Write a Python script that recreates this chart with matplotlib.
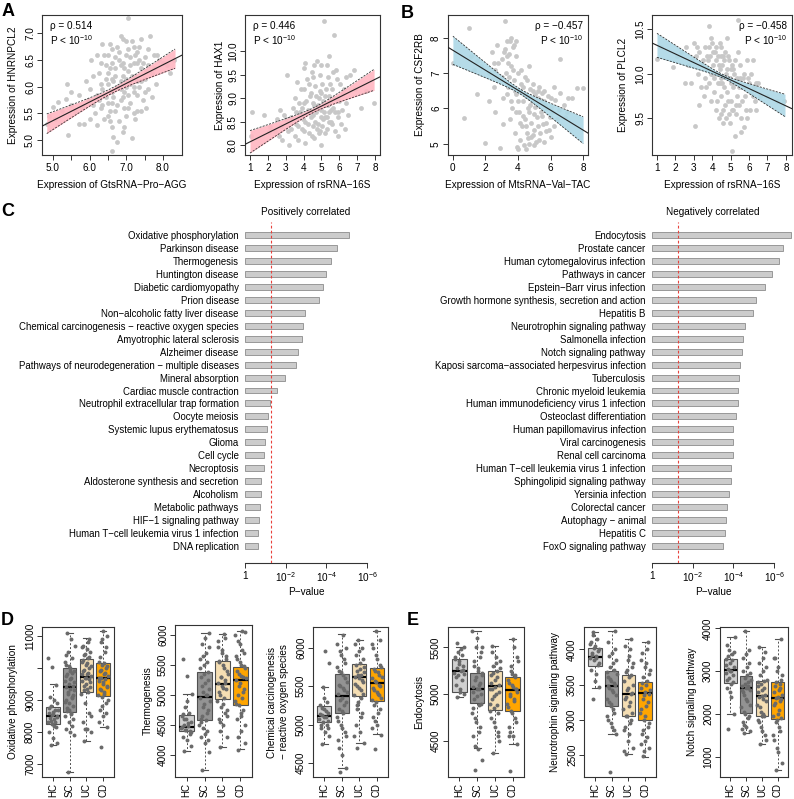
import numpy as np
import matplotlib
matplotlib.use('Agg')
import matplotlib.pyplot as plt

plt.rcParams['font.family'] = ['Liberation Sans', 'DejaVu Sans']
plt.rcParams['mathtext.fontset'] = 'custom'
plt.rcParams['mathtext.rm'] = 'Liberation Sans'
plt.rcParams['mathtext.it'] = 'Liberation Sans:italic'
plt.rcParams['mathtext.bf'] = 'Liberation Sans:bold'
plt.rcParams['axes.unicode_minus'] = True

M = '\u2212'

# ---------------- DATA ----------------
# Panel A / B scatter points (x, y)
A1_pts = [(4.85,5.30),(4.9,5.45),(5.0,5.62),(5.05,5.40),(5.15,5.72),(5.25,5.55),(5.35,5.77),(5.38,6.05),(5.42,5.10),
          (5.5,5.65),(5.6,5.55),(5.7,5.85),(5.8,5.62),(5.85,5.30),(5.95,5.75),(6.0,5.95),(6.05,6.5),(6.1,6.2),(6.15,5.5),
          (6.2,5.28),(6.2,5.85),(6.25,6.25),(6.3,5.6),(6.3,6.45),(6.35,5.95),(6.4,5.4),(6.4,6.6),(6.45,6.15),(6.5,5.7),
          (6.5,5.45),(6.55,6.35),(6.55,6.8),(6.6,5.9),(6.6,5.25),(6.62,4.8),(6.65,6.1),(6.7,6.55),(6.7,5.55),(6.75,6.75),
          (6.75,4.97),(6.8,6.0),(6.8,5.35),(6.85,6.4),(6.85,5.75),(6.9,6.9),(6.9,6.2),(6.95,5.6),(6.95,5.9),(7.0,6.6),
          (7.0,5.45),(7.05,7.28),(7.05,6.3),(7.1,6.05),(7.1,5.7),(7.15,6.85),(7.15,5.03),(7.2,6.45),(7.2,5.9),(7.25,6.2),
          (7.3,6.65),(7.3,5.55),(7.35,6.0),(7.4,6.9),(7.4,6.35),(7.45,5.75),(7.5,6.55),(7.5,6.15),(7.55,5.6),(7.6,6.4),
          (7.65,6.95),(7.7,6.25),(7.75,6.6),(7.8,6.05),(7.9,6.5),(8.0,6.45),(8.1,6.4),(8.3,6.5),(6.35,5.65),(6.9,5.15),
          (6.6,6.45),(6.7,6.2),(6.8,6.65),(6.9,6.45),(7.0,6.15),(7.1,6.55),(7.2,6.75),(7.3,6.1),(6.5,6.05),(6.45,5.8),
          (7.05,5.85),(6.85,5.95),(7.35,6.5),(6.25,5.75),(6.6,6.7),(7.25,5.4),
          (6.3,6.05),(6.4,5.85),(6.45,6.4),(6.5,6.25),(6.55,5.55),(6.6,6.15),(6.65,5.8),(6.7,6.35),(6.75,6.0),(6.75,5.65),
          (6.8,6.5),(6.85,6.1),(6.9,5.8),(6.95,6.35),(7.0,6.0),(7.0,6.85),(7.05,5.6),(7.1,6.4),(7.15,6.2),(7.2,6.0),
          (7.2,5.5),(7.25,6.6),(7.3,5.85),(7.35,6.75),(7.4,6.1),(7.45,6.45),(7.5,5.9),(7.55,6.3),(7.6,6.7),(7.7,5.8),
          (7.75,6.35),(7.85,6.6),(6.1,5.65),(6.0,5.4),(5.9,6.1),(5.7,5.3),(5.5,5.9),(6.2,6.6),(6.35,6.8),(6.55,5.35),
          (6.65,5.05),(6.95,5.25),(7.4,5.55),(7.6,5.95),(8.2,6.25),(6.85,6.95),(7.05,6.7),(6.5,6.6),(7.3,6.45),(6.6,5.7)]
A2_pts = [(1.05,8.2),(1.1,8.7),(1.8,8.65),(2.05,8.28),(2.1,8.38),(2.5,8.55),(2.6,8.2),(2.75,8.4),(2.8,8.1),(2.9,8.65),
          (3.05,9.5),(3.1,8.3),(3.2,8.0),(3.3,8.6),(3.4,8.8),(3.5,8.2),(3.5,9.0),(3.6,8.45),(3.65,9.35),(3.7,8.1),
          (3.8,8.7),(3.85,9.2),(3.9,8.35),(4.0,9.65),(4.0,8.9),(4.1,8.05),(4.1,8.5),(4.2,9.4),(4.25,8.75),(4.3,8.25),
          (4.35,9.05),(4.4,8.6),(4.45,9.55),(4.5,8.4),(4.55,8.9),(4.6,8.15),(4.65,9.25),(4.7,8.7),(4.75,9.8),(4.8,8.45),
          (4.85,9.0),(4.9,8.3),(4.95,9.7),(5.0,8.75),(5.0,8.0),(5.05,9.3),(5.1,8.55),(5.15,10.65),(5.2,9.05),(5.25,8.85),
          (5.3,8.35),(5.35,9.45),(5.4,8.7),(5.45,9.9),(5.5,8.95),(5.55,8.5),(5.6,9.2),(5.65,8.8),(5.7,10.35),(5.75,8.3),
          (5.8,9.6),(5.85,9.0),(5.95,8.7),(6.05,9.3),(6.1,8.45),(6.2,9.1),(6.3,8.35),(6.4,9.45),(6.5,8.65),(6.6,9.5),
          (7.5,9.15),(7.95,8.9),(6.8,9.6),(5.9,8.2),(4.6,8.85),(4.9,9.15),(5.2,8.6),(4.4,9.1),(3.95,8.55),(5.4,9.05),
          (3.6,8.7),(3.75,8.9),(3.9,8.8),(4.05,8.3),(4.15,8.95),(4.25,8.45),(4.35,8.7),(4.45,8.2),(4.55,8.65),(4.65,8.5),
          (4.7,9.05),(4.8,8.85),(4.85,8.25),(4.95,8.6),(5.0,9.1),(5.05,8.4),(5.1,8.95),(5.15,8.7),(5.25,9.2),(5.3,8.6),
          (5.35,8.85),(5.45,8.5),(5.5,9.3),(5.55,8.75),(5.6,8.45),(5.7,9.0),(5.75,8.7),(5.85,9.4),(5.9,8.6),(6.0,8.95),
          (6.15,8.75),(6.25,9.2),(4.3,9.3),(4.5,9.45),(4.0,9.2),(3.7,8.4),(3.3,8.35),(3.0,8.55),(2.7,8.75),(2.4,8.3),
          (4.75,8.35),(5.2,8.25),(5.65,9.55),(6.35,8.9),(6.9,9.2),(7.2,8.8),(4.9,9.5),(5.3,9.7),(4.6,9.7),(4.1,9.75)]
B1_pts = [(0.0,7.3),(1.0,8.27),(0.7,5.72),(1.1,7.5),(1.3,7.1),(1.5,7.35),(1.7,7.2),(2.0,5.03),(2.2,7.0),(2.4,7.6),
          (2.5,6.6),(2.6,7.1),(2.7,7.8),(2.8,6.8),(2.9,4.88),(3.0,7.4),(3.1,6.3),(3.2,8.48),(3.25,7.0),(3.3,7.9),
          (3.4,6.6),(3.45,7.55),(3.5,5.7),(3.55,7.2),(3.6,8.0),(3.65,6.0),(3.7,7.75),(3.75,6.8),(3.8,5.3),(3.85,7.5),
          (3.9,6.4),(3.95,4.9),(4.0,7.0),(4.05,5.9),(4.1,6.5),(4.15,5.1),(4.2,6.7),(4.25,5.5),(4.3,6.2),(4.35,4.95),
          (4.4,6.9),(4.45,5.7),(4.5,6.35),(4.55,5.3),(4.6,6.0),(4.65,7.2),(4.7,5.0),(4.75,6.55),(4.8,5.6),(4.85,6.2),
          (4.9,5.25),(4.95,6.7),(5.0,5.85),(5.05,6.4),(5.1,5.05),(5.15,6.1),(5.2,5.5),(5.3,6.6),(5.35,5.3),(5.4,6.25),
          (5.5,5.8),(5.6,6.5),(5.7,5.6),(5.8,6.0),(5.9,5.4),(6.0,6.3),(6.1,5.9),(6.2,6.6),(6.4,5.7),(6.56,7.39),
          (6.8,6.1),(7.0,5.9),(7.3,6.3),(7.65,6.57),(8.0,6.57),(5.0,4.95),(4.5,4.85),(2.2,6.2),(1.5,6.4),(3.4,7.3),
          (3.9,7.9),(4.3,6.6),(4.7,6.3),(5.2,6.5),(5.6,6.2),(3.6,6.6),
          (3.0,6.9),(3.15,7.6),(3.3,6.4),(3.45,6.9),(3.55,6.2),(3.7,7.1),(3.8,6.5),(3.9,5.9),(4.0,6.2),(4.1,5.6),
          (4.2,7.1),(4.3,5.8),(4.4,6.4),(4.5,5.5),(4.55,6.8),(4.65,5.9),(4.75,6.1),(4.8,5.2),(4.9,6.5),(5.0,5.4),
          (5.05,6.05),(5.15,5.75),(5.25,6.3),(5.3,5.1),(5.4,5.9),(5.45,6.45),(5.55,5.55),(5.65,6.1),(5.75,5.35),(5.85,6.35),
          (5.95,5.75),(6.05,6.05),(6.2,5.5),(6.3,6.25),(6.5,5.95),(6.6,6.45),(6.9,5.75),(7.1,6.3),(2.8,7.3),(2.5,7.3),
          (3.2,7.7),(3.5,7.9),(3.75,7.8),(3.1,5.55),(2.6,5.9),(4.0,4.85),(4.6,5.15),(5.6,5.05),(6.0,5.2),(3.35,7.5)]
B2_pts = [(1.0,10.17),(1.2,10.3),(1.85,10.08),(2.1,10.2),(2.3,10.25),(2.6,10.3),(2.7,10.1),(2.85,9.9),(3.0,10.35),
          (3.08,9.41),(3.1,10.2),(3.2,10.0),(3.3,10.25),(3.4,9.85),(3.5,10.15),(3.55,9.75),(3.6,10.3),(3.7,10.05),
          (3.8,10.54),(3.85,9.9),(3.9,10.2),(3.95,9.7),(4.0,10.35),(4.05,10.1),(4.1,9.8),(4.15,10.25),(4.2,9.6),
          (4.25,10.0),(4.3,10.2),(4.35,9.5),(4.4,10.05),(4.45,9.75),(4.5,10.3),(4.55,9.9),(4.6,9.45),(4.65,10.15),
          (4.7,9.65),(4.75,10.0),(4.8,9.8),(4.85,10.2),(4.9,9.55),(4.95,9.95),(5.0,9.7),(5.05,10.1),(5.07,9.14),
          (5.1,9.85),(5.15,9.6),(5.2,10.0),(5.25,9.3),(5.3,9.9),(5.35,9.75),(5.39,10.6),(5.4,10.25),(5.45,9.65),
          (5.5,9.95),(5.55,9.5),(5.6,9.85),(5.7,10.0),(5.75,9.4),(5.8,9.75),(5.9,10.15),(6.0,9.9),(6.05,9.6),
          (6.1,9.8),(6.2,10.15),(6.3,9.7),(6.4,9.9),(6.6,9.75),(7.0,9.75),(7.5,9.7),(7.9,9.7),(4.5,9.55),(3.3,9.65),
          (2.5,9.9),(4.2,10.15),(4.6,10.2),(4.0,10.0),(5.0,10.05),(4.4,9.9),(3.7,10.2),
          (3.45,10.1),(3.6,9.95),(3.75,10.15),(3.85,10.3),(3.95,10.0),(4.05,10.25),(4.1,9.95),(4.2,10.3),(4.3,9.9),
          (4.35,10.1),(4.45,10.2),(4.5,9.95),(4.55,10.1),(4.65,9.85),(4.7,10.25),(4.8,10.05),(4.85,9.7),(4.9,10.15),
          (5.0,9.9),(5.05,9.6),(5.1,10.05),(5.15,9.9),(5.25,10.15),(5.3,9.65),(5.35,9.95),(5.45,9.85),(5.5,10.1),
          (5.6,9.7),(5.65,9.95),(5.75,9.85),(5.85,9.6),(5.95,9.95),(6.1,10.0),(6.25,9.85),(6.35,9.6),(6.5,9.9),
          (4.75,9.5),(4.95,9.45),(5.3,9.55),(4.25,9.7),(3.65,9.85),(3.15,10.3),(2.9,10.15),(4.4,10.35),(4.8,10.4),
          (3.95,10.4),(5.9,9.5),(6.2,9.75),(4.6,9.6),(5.55,9.35)]

# regression line (intercept, slope) and CI half-width model (centre, min half-width, growth)
A1_fit = (3.624, 0.348, 6.6, 0.05, 0.10)
A2_fit = (7.88, 0.19, 4.6, 0.05, 0.065)
B1_fit = (7.65, -0.283, 4.1, 0.07, 0.096)
B2_fit = (10.417, -0.097, 4.6, 0.02, 0.037)
A1_band = (4.83, 8.33)
A2_band = (1.0, 7.95)
B1_band = (0.0, 8.0)
B2_band = (1.0, 7.95)
rho_vals = [0.514, 0.446, -0.457, -0.458]

# Panel C
pos_terms = ["Oxidative phosphorylation", "Parkinson disease", "Thermogenesis", "Huntington disease",
             "Diabetic cardiomyopathy", "Prion disease", f"Non{M}alcoholic fatty liver disease",
             f"Chemical carcinogenesis {M} reactive oxygen species", "Amyotrophic lateral sclerosis",
             "Alzheimer disease", f"Pathways of neurodegeneration {M} multiple diseases", "Mineral absorption",
             "Cardiac muscle contraction", "Neutrophil extracellular trap formation", "Oocyte meiosis",
             "Systemic lupus erythematosus", "Glioma", "Cell cycle", "Necroptosis",
             "Aldosterone synthesis and secretion", "Alcoholism", "Metabolic pathways",
             f"HIF{M}1 signaling pathway", f"Human T{M}cell leukemia virus 1 infection", "DNA replication"]
pos_logp = [5.11, 4.52, 4.21, 4.00, 3.82, 3.65, 2.93, 2.83, 2.78, 2.62, 2.50, 1.97, 1.56, 1.23, 1.11,
            1.07, 0.97, 0.93, 0.93, 0.77, 0.77, 0.72, 0.70, 0.62, 0.62]
neg_terms = ["Endocytosis", "Prostate cancer", "Human cytomegalovirus infection", "Pathways in cancer",
             f"Epstein{M}Barr virus infection", "Growth hormone synthesis, secretion and action", "Hepatitis B",
             "Neurotrophin signaling pathway", "Salmonella infection", "Notch signaling pathway",
             f"Kaposi sarcoma{M}associated herpesvirus infection", "Tuberculosis", "Chronic myeloid leukemia",
             "Human immunodeficiency virus 1 infection", "Osteoclast differentiation",
             "Human papillomavirus infection", "Viral carcinogenesis", "Renal cell carcinoma",
             f"Human T{M}cell leukemia virus 1 infection", "Sphingolipid signaling pathway", "Yersinia infection",
             "Colorectal cancer", f"Autophagy {M} animal", "Hepatitis C", "FoxO signaling pathway"]
neg_logp = [6.85, 6.45, 6.25, 5.90, 5.57, 5.12, 4.98, 4.55, 4.47, 4.44, 4.30, 4.28, 4.23, 4.21, 4.14,
            3.98, 3.98, 3.96, 3.90, 3.87, 3.79, 3.69, 3.64, 3.59, 3.48]
p_cutoff_log = 1.3
p_ticks = [0, 2, 4, 6]
p_ticklabels = ['1', r'10$^{\mathregular{-2}}$', r'10$^{\mathregular{-4}}$', r'10$^{\mathregular{-6}}$']

# Panels D / E
groups = ["HC", "SC", "UC", "CD"]
group_colors = ["#D0D0D0", "#939393", "#F5DEB3", "#FFA500"]

D1_q1 = [8250, 8615, 9260, 9125]; D1_med = [8510, 9396, 9729, 9698]; D1_q3 = [8771, 9990, 10270, 10146]
D1_lo = [7594, 6760, 7719, 8167]; D1_hi = [9490, 11083, 10927, 11156]
D1_pts = [[7600,7650,7800,8000,8150,8250,8300,8400,8450,8500,8550,8600,8700,8800,8900,9000,9100,9480,10040,10320,
           8200,8350,8480,8620,8750,8300,8520,8680],
          [6760,7900,8000,8100,8200,8300,8500,8600,8650,8800,8900,9000,9100,9200,9300,9350,9400,9450,9500,9600,9700,
           9800,9900,10000,10100,10300,10500,10700,10900,11080,8400,8700,8950,9050,9250,9550,9650,9750,9850,10050,
           10200,8550,8750,9150,9900,10400],
          [7720,8000,8100,8300,8600,8900,9200,9250,9300,9400,9500,9600,9650,9700,9750,9800,9900,10000,10100,10200,
           10300,10400,10500,10600,10700,10900,8100,8500,9350,9450,9550,9680,9800,9850,9950,10050,10150,10250,10350,
           10450,10650,10800],
          [7540,8170,8500,8700,8900,9100,9150,9200,9300,9400,9500,9600,9650,9700,9750,9800,9900,10000,10100,10200,
           10500,10800,11000,11150,8300,8600,8800,9000,9250,9350,9450,9550,9680,9850,9950,10050,10150,10350,10650,
           10900]]
D2_q1 = [4398, 4580, 4934, 4829]; D2_med = [4470, 4972, 5188, 5254]; D2_q3 = [4674, 5376, 5569, 5464]
D2_lo = [4066, 3746, 4138, 4094]; D2_hi = [5017, 6039, 6017, 6072]
D2_pts = [[4070,4150,4250,4300,4400,4420,4450,4480,4500,4550,4600,4650,4700,4800,5020,5320,5600,
           4350,4420,4470,4530,4600,4380,4900,4680],
          [3750,4050,4200,4300,4400,4450,4500,4580,4650,4750,4850,4950,5000,5050,5100,5200,5300,5380,5500,5600,5700,
           5850,6040,4350,4550,4700,4800,4900,5000,5150,5250,5350,5450,5550,5650,5800,5950,4600,4250],
          [4140,4300,4500,4600,4700,4800,4900,4950,5000,5100,5150,5200,5250,5300,5400,5500,5560,5650,5750,5900,6020,
           4400,4650,4850,5050,5200,5300,5350,5450,5550,5600,5700,5800,5950,4550,4750,5120],
          [4090,4200,4400,4600,4750,4830,4900,4950,5000,5100,5200,5250,5300,5350,5450,5500,5600,5700,5850,6000,6070,
           4300,4500,4700,4850,5050,5150,5280,5320,5400,5480,5550,5650,5750,5900,6050,4650]]
D3_q1 = [5030, 5147, 5377, 5312]; D3_med = [5117, 5372, 5615, 5537]; D3_q3 = [5247, 5654, 5784, 5740]
D3_lo = [4749, 4442, 4758, 4874]; D3_hi = [5494, 6173, 6100, 6216]
D3_pts = [[4750,4850,4900,4950,5000,5030,5070,5100,5120,5150,5200,5250,5300,5490,5800,5950,
           5000,5050,5100,5140,5180,5220,4950,5350],
          [4390,4440,4600,4800,4900,5000,5100,5150,5200,5300,5350,5400,5450,5500,5550,5650,5700,5800,5900,6050,6170,
           4700,4850,4950,5050,5250,5320,5420,5480,5520,5600,5680,5750,5850,5950,6000,5180],
          [4700,4760,4900,5000,5150,5300,5380,5450,5500,5550,5600,5620,5650,5700,5750,5800,5900,6000,6100,
           4850,5100,5250,5400,5480,5530,5580,5640,5680,5720,5780,5850,5950,6050,5350,5200],
          [4680,4870,5000,5100,5200,5300,5320,5400,5450,5500,5550,5600,5650,5700,5750,5850,6000,6100,6220,
           4950,5150,5250,5350,5420,5480,5520,5570,5620,5680,5720,5780,5900,6050,5380,5050]]
E1_q1 = [5027, 4902, 4831, 4824]; E1_med = [5247, 5055, 5091, 5044]; E1_q3 = [5372, 5230, 5251, 5180]
E1_lo = [4973, 4422, 4375, 4468]; E1_hi = [5500, 5674, 5514, 5589]
E1_pts = [[4970,5000,5020,5100,5150,5200,5230,5250,5280,5300,5350,5380,5420,5450,5500,
           5050,5180,5260,5320,5400,5480,5550,5220],
          [4190,4300,4420,4550,4650,4700,4800,4880,4950,5000,5050,5080,5100,5150,5200,5250,5300,5400,5500,5670,
           4600,4750,4900,4980,5020,5120,5180,5230,5280,5350,5450,5600,4850,5060,4450,5500],
          [4370,4500,4650,4750,4800,4850,4900,5000,5050,5100,5150,5200,5250,5300,5350,5400,5510,
           4550,4700,4820,4880,4950,5020,5080,5120,5180,5230,5280,5330,5450,4600,4980,5060],
          [4180,4470,4550,4650,4750,4820,4900,4950,5000,5050,5100,5150,5200,5300,5400,5590,
           4550,4700,4800,4860,4930,4980,5020,5080,5120,5180,5250,5350,5500,4600,5060,5220]]
E2_q1 = [3768, 3200, 3058, 2997]; E2_med = [3896, 3480, 3366, 3375]; E2_q3 = [4014, 3697, 3636, 3541]
E2_lo = [3456, 2793, 2509, 2476]; E2_hi = [4241, 4265, 4147, 4109]
E2_pts = [[3290,3460,3550,3700,3780,3850,3880,3900,3950,4000,4050,4100,4150,4240,
           3800,3870,3920,3980,4020,4080,3650,4200],
          [2260,2800,2900,3000,3100,3200,3300,3400,3450,3500,3550,3600,3700,3750,3850,3950,4100,4260,
           2950,3050,3150,3250,3350,3420,3480,3520,3580,3650,3800,3900,4000,3220,3680,2850],
          [2510,2600,2800,2900,3000,3060,3150,3250,3330,3380,3450,3550,3640,3700,3800,3900,4050,4150,
           2700,2850,2950,3050,3100,3200,3300,3360,3420,3500,3600,3680,3750,3850,2550,4000],
          [2480,2600,2700,2800,2900,3000,3100,3200,3300,3370,3400,3450,3550,3600,3700,3800,3950,4110,
           2550,2650,2750,2850,2950,3050,3150,3250,3350,3420,3500,3520,3650,3750,3850,4000]]
E3_q1 = [2730, 2012, 1950, 1872]; E3_med = [3026, 2597, 2426, 2363]; E3_q3 = [3283, 2885, 2776, 2753]
E3_lo = [2000, 1545, 1295, 687]; E3_hi = [3805, 3938, 3571, 3750]
E3_pts = [[1650,2000,2400,2600,2750,2850,2950,3000,3050,3100,3200,3280,3400,3500,3800,
           2700,2800,2900,3000,3150,3250,3350,3450,2500,3600],
          [1550,1600,1700,1800,1950,2000,2150,2300,2450,2550,2600,2650,2750,2850,2950,3100,3300,3500,3940,
           1650,1900,2050,2200,2350,2500,2600,2700,2800,2900,3000,3200,3400,2550,2650,1750],
          [1300,1400,1600,1800,1950,2050,2200,2350,2400,2450,2550,2650,2780,2900,3100,3300,3570,
           1500,1700,1850,2000,2150,2300,2420,2500,2600,2700,2800,3000,3200,3450,1950,2750],
          [690,850,1100,1400,1600,1850,1950,2100,2250,2350,2400,2500,2600,2750,2900,3100,3300,3750,
           1200,1500,1700,1800,1900,2000,2200,2300,2380,2450,2550,2650,2800,3000,3300,2700]]

# ---------------- FIGURE ----------------
W, H = 794, 799
fig = plt.figure(figsize=(W / 100, H / 100), dpi=100)
FS = 7.2
FRAME = '#333333'


def add_ax(x0, y0, x1, y1):
    return fig.add_axes([x0 / W, 1 - y1 / H, (x1 - x0) / W, (y1 - y0) / H])


def ftext(x, y, s, **kw):
    kw.setdefault('fontsize', FS)
    fig.text(x / W, 1 - y / H, s, **kw)


def style_frame(ax):
    for sp in ax.spines.values():
        sp.set_color(FRAME)
        sp.set_linewidth(0.8)
    ax.tick_params(length=3.5, width=0.7, color=FRAME, labelsize=FS, pad=2)
    ax.tick_params(axis='y', pad=1.5)


def rot_y_labels(ax):
    for lab in ax.get_yticklabels():
        lab.set_rotation(90)
        lab.set_va('center')


def scatter_panel(box, pts, fit, band, color, xlim, ylim, xticks, xlabels, yticks, ylabels,
                  xlabel, ylabel, ylab_x, rho, right):
    ax = add_ax(*box)
    xs = [p[0] for p in pts]
    ys = [p[1] for p in pts]
    ax.scatter(xs, ys, s=12, c='#C8C8C8', linewidths=0, zorder=1)
    a, b, xc, h0, hs = fit
    xx = np.linspace(band[0], band[1], 100)
    yy = a + b * xx
    hw = np.sqrt(h0 ** 2 + (hs * (xx - xc)) ** 2)
    ax.fill_between(xx, yy - hw, yy + hw, color=color, lw=0, alpha=0.9, zorder=2)
    ax.plot(xx, yy - hw, color='#333333', lw=0.6, ls=(0, (2.5, 1.5)), zorder=3)
    ax.plot(xx, yy + hw, color='#333333', lw=0.6, ls=(0, (2.5, 1.5)), zorder=3)
    xl = np.array(xlim)
    ax.plot(xl, a + b * xl, color='#222222', lw=0.8, zorder=4)
    ax.set_xlim(xlim)
    ax.set_ylim(ylim)
    ax.set_xticks(xticks)
    ax.set_xticklabels(xlabels)
    ax.set_yticks(yticks)
    ax.set_yticklabels(ylabels)
    style_frame(ax)
    rot_y_labels(ax)
    x0, y0, x1, y1 = box
    ftext((x0 + x1) / 2, 185, xlabel, ha='center', va='center')
    ftext(ylab_x, (y0 + y1) / 2, ylabel, ha='center', va='center', rotation=90)
    rtxt = f"\u03c1 = {rho:.3f}".replace('-', M)
    ptxt = r"P < 10$^{\mathregular{-10}}$"
    if right:
        ftext(x1 - 5, 26, rtxt, ha='right', va='center')
        ftext(x1 - 5, 40, ptxt, ha='right', va='center')
    else:
        ftext(x0 + 8, 26, rtxt, ha='left', va='center')
        ftext(x0 + 8, 40, ptxt, ha='left', va='center')
    return ax


def fmt1(v):
    return f"{v:.1f}"


# A1
a1_xt = [5.0, 5.5, 6.0, 6.5, 7.0, 7.5, 8.0]
scatter_panel((42, 15, 182, 155), A1_pts, A1_fit, A1_band, '#FFB6C1', (4.7, 8.52), (4.72, 7.34),
              a1_xt, [fmt1(v) if v == int(v) else '' for v in a1_xt],
              [5.0, 5.5, 6.0, 6.5, 7.0], [fmt1(v) for v in [5.0, 5.5, 6.0, 6.5, 7.0]],
              f"Expression of GtsRNA{M}Pro{M}AGG", "Expression of HNRNPCL2", 13, rho_vals[0], False)
# A2
scatter_panel((245, 15, 380, 155), A2_pts, A2_fit, A2_band, '#FFB6C1', (0.72, 8.28), (7.79, 10.77),
              list(range(1, 9)), [str(v) for v in range(1, 9)],
              [8.0, 8.5, 9.0, 9.5, 10.0], [fmt1(v) for v in [8.0, 8.5, 9.0, 9.5, 10.0]],
              f"Expression of rsRNA{M}16S", "Expression of HAX1", 220, rho_vals[1], False)
# B1
scatter_panel((448, 15, 588, 155), B1_pts, B1_fit, B1_band, '#ADD8E6', (-0.3, 8.3), (4.68, 8.65),
              [0, 2, 4, 6, 8], ['0', '2', '4', '6', '8'],
              [5, 6, 7, 8], ['5', '6', '7', '8'],
              f"Expression of MtsRNA{M}Val{M}TAC", "Expression of CSF2RB", 420, rho_vals[2], True)
# B2
scatter_panel((652, 15, 792, 155), B2_pts, B2_fit, B2_band, '#ADD8E6', (0.73, 8.33), (9.09, 10.66),
              list(range(1, 9)), [str(v) for v in range(1, 9)],
              [9.5, 10.0, 10.5], ['9.5', '10.0', '10.5'],
              f"Expression of rsRNA{M}16S", "Expression of PLCL2", 623, rho_vals[3], True)

# ---------------- Panel C ----------------
PX_PER_DEC = 20.35


def bar_panel(xstart, terms, vals, title):
    n = len(terms)
    top_px, bot_px = 222, 563
    spacing = (546 - 235) / (n - 1)
    y_top = 1 - (235 - top_px) / spacing
    y_bot = n + (bot_px - 546) / spacing
    ax = add_ax(xstart, top_px, xstart + 7 * PX_PER_DEC, bot_px)
    ypos = np.arange(1, n + 1)
    ax.barh(ypos, vals, height=0.46, color='#CCCCCC', edgecolor='#8C8C8C', linewidth=0.6, zorder=2)
    ax.axvline(p_cutoff_log, color='#E8413C', lw=0.8, ls=(0, (2.5, 2)), zorder=3)
    ax.set_xlim(0, 7)
    ax.set_ylim(y_bot, y_top)
    ax.set_yticks(ypos)
    ax.set_yticklabels(terms, fontsize=6.9)
    ax.tick_params(axis='y', length=0, pad=4.5)
    for s in ['left', 'top', 'right']:
        ax.spines[s].set_visible(False)
    ax.spines['bottom'].set_bounds(0, 6)
    ax.spines['bottom'].set_color(FRAME)
    ax.spines['bottom'].set_linewidth(0.8)
    ax.set_xticks(p_ticks)
    ax.set_xticklabels(p_ticklabels)
    ax.tick_params(axis='x', length=3.5, width=0.7, color=FRAME, labelsize=FS, pad=2)
    ax.patch.set_visible(False)
    cx = xstart + 3 * PX_PER_DEC
    ftext(cx, 212, title, ha='center', va='center')
    ftext(cx, 592, f"P{M}value", ha='center', va='center')


bar_panel(245, pos_terms, pos_logp, "Positively correlated")
bar_panel(652, neg_terms, neg_logp, "Negatively correlated")

# ---------------- Panels D / E ----------------


def box_panel(box, q1, med, q3, lo, hi, pts, ylim, yticks, ylabels, ylabel, ylab_x):
    ax = add_ax(*box)
    stats = [dict(med=med[i], q1=q1[i], q3=q3[i], whislo=lo[i], whishi=hi[i], fliers=[]) for i in range(4)]
    bp = ax.bxp(stats, positions=[1, 2, 3, 4], widths=0.8, patch_artist=True, showfliers=False,
                boxprops=dict(edgecolor='#505050', linewidth=0.8),
                medianprops=dict(color='black', linewidth=1.6),
                whiskerprops=dict(color='#505050', linewidth=0.7, linestyle=(0, (2, 2))),
                capprops=dict(color='#505050', linewidth=0.8), capwidths=0.4)
    for patch, c in zip(bp['boxes'], group_colors):
        patch.set_facecolor(c)
    for i, vals in enumerate(pts):
        n = len(vals)
        off = ((np.arange(n) * 0.618034 + 0.3) % 1 - 0.5) * 0.6
        ax.scatter(i + 1 + off, vals, s=8, c='#6A6A6A', linewidths=0, zorder=5)
    ax.set_xlim(0.35, 4.65)
    ax.set_ylim(ylim)
    ax.set_xticks([1, 2, 3, 4])
    ax.set_xticklabels(groups, rotation=90)
    ax.set_yticks(yticks)
    ax.set_yticklabels(ylabels)
    style_frame(ax)
    ax.tick_params(axis='x', labelsize=7.0, length=3, pad=1.5)
    rot_y_labels(ax)
    x0, y0, x1, y1 = box
    ftext(ylab_x, (y0 + y1) / 2, ylabel, ha='center', va='center', rotation=90, multialignment='center')
    return ax


box_panel((42, 627, 114, 777), D1_q1, D1_med, D1_q3, D1_lo, D1_hi, D1_pts, (6594, 11281),
          [7000, 8000, 9000, 10000, 11000], ['7000', '8000', '9000', '', '11000'],
          "Oxidative phosphorylation", 13)
box_panel((175, 625, 252, 777), D2_q1, D2_med, D2_q3, D2_lo, D2_hi, D2_pts, (3635, 6166),
          [4000, 4500, 5000, 5500, 6000], ['4000', '4500', '5000', '5500', '6000'],
          "Thermogenesis", 148)
box_panel((313, 627, 388, 777), D3_q1, D3_med, D3_q3, D3_lo, D3_hi, D3_pts, (4320, 6268),
          [4500, 5000, 5500, 6000], ['4500', '5000', '5500', '6000'],
          f"Chemical carcinogenesis\n{M} reactive oxygen species", 278)
box_panel((448, 627, 524, 777), E1_q1, E1_med, E1_q3, E1_lo, E1_hi, E1_pts, (4116, 5717),
          [4500, 5000, 5500], ['4500', '5000', '5500'],
          "Endocytosis", 419)
box_panel((584, 627, 656, 777), E2_q1, E2_med, E2_q3, E2_lo, E2_hi, E2_pts, (2187, 4317),
          [2500, 3000, 3500, 4000], ['2500', '3000', '3500', '4000'],
          "Neurotrophin signaling pathway", 555)
box_panel((720, 627, 788, 777), E3_q1, E3_med, E3_q3, E3_lo, E3_hi, E3_pts, (524, 4031),
          [1000, 2000, 3000, 4000], ['1000', '2000', '3000', '4000'],
          "Notch signaling pathway", 692)

# Panel letters
for letter, (x, y) in {'A': (2, 3), 'B': (401, 5), 'C': (1, 203), 'D': (1, 612), 'E': (407, 612)}.items():
    ftext(x, y, letter, ha='left', va='top', fontsize=13, fontweight='bold')

fig.savefig('out.png', dpi=100)
